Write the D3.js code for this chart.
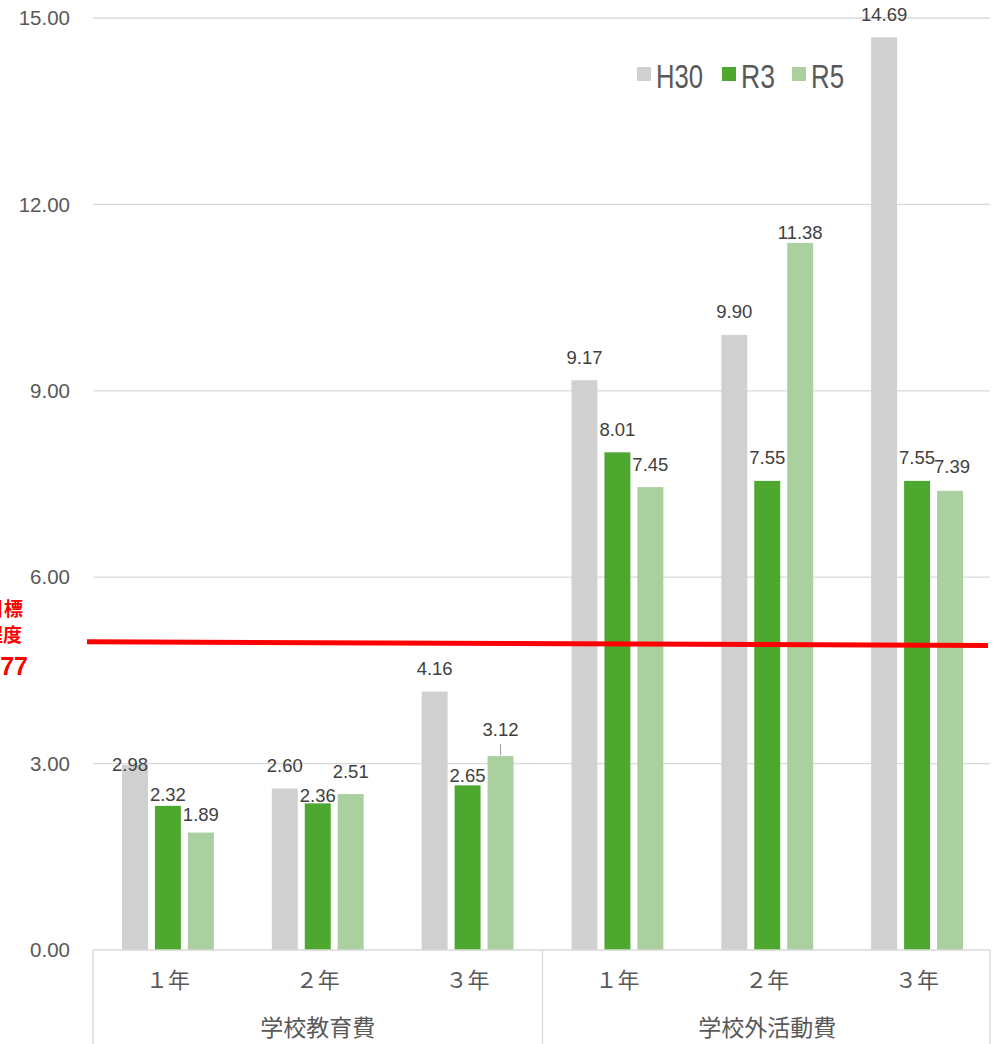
<!DOCTYPE html>
<html><head><meta charset="utf-8">
<script src="https://cdn.jsdelivr.net/npm/d3@7"></script>
<style>
html,body{margin:0;padding:0;background:#fff;}
svg{display:block;}
</style></head>
<body>
<svg id="chart" width="1000" height="1044"></svg>
<script>
const groups = ["学校教育費", "学校外活動費"];
const grades = ["１年", "２年", "３年"];
const categories = ["学校教育費-1", "学校教育費-2", "学校教育費-3", "学校外活動費-1", "学校外活動費-2", "学校外活動費-3"];
const seriesNames = ["H30", "R3", "R5"];
const h30 = [2.98, 2.60, 4.16, 9.17, 9.90, 14.69];
const r3 = [2.32, 2.36, 2.65, 8.01, 7.55, 7.55];
const r5 = [1.89, 2.51, 3.12, 7.45, 11.38, 7.39];
const yTicks = [0, 3, 6, 9, 12, 15];
const targetLine = [4.96, 4.90];
const targetLabel = ["目標", "程度", "4.77"];
const colors = ["#d0d0d0", "#4ea72e", "#a9d09e"];
// label nudges (px) relative to default placement [series][category] -> [dx, dy]
const nudges = [
  [[-5, 23], [0, 0], [0, 0], [0, 0], [0, 0], [0, 0]],
  [[0, 12], [0, 15], [0, 13], [0, 0], [0, 0], [0, 0]],
  [[0, 5], [0, 0], [0, -4], [0, 0], [0, 13], [2, -1]]
];

(function () {
const svg = d3.select("#chart");
const mLeft = 93, mRight = 992, mTop = 18, mBottom = 950;
const y = d3.scaleLinear().domain([0, 15]).range([mBottom, mTop]);
const x0 = d3.scaleBand().domain(categories).range([mLeft, mRight]).paddingInner(0).paddingOuter(0);
const x1 = d3.scaleBand().domain(seriesNames).range([0, x0.bandwidth()]).paddingInner(0.212).paddingOuter(0.88);
const textColor = "#595959";

// gridlines
svg.append("g").selectAll("line").data(yTicks.slice(1)).join("line")
  .attr("x1", mLeft).attr("x2", mRight - 2)
  .attr("y1", d => y(d)).attr("y2", d => y(d))
  .attr("stroke", "#d9d9d9").attr("stroke-width", 1.3);

// y tick labels
svg.append("g").selectAll("text").data(yTicks).join("text")
  .attr("x", 70).attr("y", d => y(d)).attr("dy", "0.35em")
  .attr("text-anchor", "end")
  .attr("font-family", "Liberation Sans, Arial, sans-serif").attr("font-size", 20.5)
  .attr("fill", textColor)
  .text(d => d3.format(".2f")(d));

// bars
const data = [h30, r3, r5];
const gBars = svg.append("g");
data.forEach((vals, si) => {
  gBars.append("g").selectAll("rect").data(vals).join("rect")
    .attr("x", (d, i) => x0(categories[i]) + x1(seriesNames[si]))
    .attr("width", x1.bandwidth())
    .attr("y", d => y(d))
    .attr("height", d => y(0) - y(d))
    .attr("fill", colors[si]);
});

// leader line for 3.12 label
{
  const cx = x0(categories[2]) + x1("R5") + x1.bandwidth() / 2;
  svg.append("line").attr("x1", cx).attr("x2", cx)
    .attr("y1", y(r5[2]) - 12).attr("y2", y(r5[2]) - 1)
    .attr("stroke", "#a6a6a6").attr("stroke-width", 1.2);
}

// value labels
data.forEach((vals, si) => {
  svg.append("g").selectAll("text").data(vals).join("text")
    .attr("x", (d, i) => x0(categories[i]) + x1(seriesNames[si]) + x1.bandwidth() / 2 + nudges[si][i][0])
    .attr("y", (d, i) => y(d) - 23 + nudges[si][i][1])
    .attr("dy", "0.35em")
    .attr("text-anchor", "middle")
    .attr("font-family", "Liberation Sans, Arial, sans-serif").attr("font-size", 18.5)
    .attr("fill", "#404040")
    .text(d => d3.format(".2f")(d));
});

// red target line
svg.append("line")
  .attr("x1", 87).attr("x2", 988)
  .attr("y1", y(targetLine[0])).attr("y2", y(targetLine[1]))
  .attr("stroke", "#ff0000").attr("stroke-width", 5);

// red target label (cut off at the page's left edge as in the source)
svg.append("text").attr("x", 23).attr("y", 609).attr("dy", "0.35em")
  .attr("text-anchor", "end").attr("font-family", "Noto Sans CJK JP").attr("font-weight", "bold")
  .attr("font-size", 19).attr("fill", "#ff0000").text(targetLabel[0]);
svg.append("text").attr("x", 22).attr("y", 635).attr("dy", "0.35em")
  .attr("text-anchor", "end").attr("font-family", "Noto Sans CJK JP").attr("font-weight", "bold")
  .attr("font-size", 19).attr("fill", "#ff0000").text(targetLabel[1]);
svg.append("text").attr("x", 28).attr("y", 666).attr("dy", "0.35em")
  .attr("text-anchor", "end").attr("font-family", "Liberation Sans, Arial, sans-serif").attr("font-weight", "bold")
  .attr("font-size", 25).attr("fill", "#ff0000").text(targetLabel[2]);

// x axis box lines
const axisG = svg.append("g").attr("stroke", "#d9d9d9").attr("stroke-width", 1.3);
axisG.append("line").attr("x1", mLeft).attr("x2", mRight - 2).attr("y1", mBottom).attr("y2", mBottom);
[mLeft, x0(categories[3]), mRight - 2].forEach(xx => {
  axisG.append("line").attr("x1", xx).attr("x2", xx).attr("y1", mBottom).attr("y2", 1044);
});

// category labels
svg.append("g").selectAll("text").data(categories).join("text")
  .attr("x", d => x0(d) + x0.bandwidth() / 2)
  .attr("y", 980).attr("dy", "0.35em")
  .attr("text-anchor", "middle")
  .attr("font-family", "Noto Sans CJK JP").attr("font-size", 22)
  .attr("fill", textColor)
  .text((d, i) => grades[i % 3]);

// group labels
svg.append("g").selectAll("text").data(groups).join("text")
  .attr("x", (d, i) => (x0(categories[i * 3]) + x0(categories[i * 3 + 2]) + x0.bandwidth()) / 2)
  .attr("y", 1028).attr("dy", "0.35em")
  .attr("text-anchor", "middle")
  .attr("font-family", "Noto Sans CJK JP").attr("font-size", 23)
  .attr("fill", textColor)
  .text(d => d);

// legend
const legendX = [637, 722, 792];
const legendW = [47, 34, 33];
const lg = svg.append("g");
seriesNames.forEach((s, i) => {
  lg.append("rect").attr("x", legendX[i]).attr("y", 67).attr("width", 14).attr("height", 14).attr("fill", colors[i]);
  lg.append("text").attr("x", legendX[i] + 19).attr("y", 76).attr("dy", "0.35em")
    .attr("font-family", "Liberation Sans, sans-serif").attr("font-size", 33)
    .attr("textLength", legendW[i]).attr("lengthAdjust", "spacingAndGlyphs")
    .attr("fill", textColor).text(s);
});
})();
</script>
</body></html>
